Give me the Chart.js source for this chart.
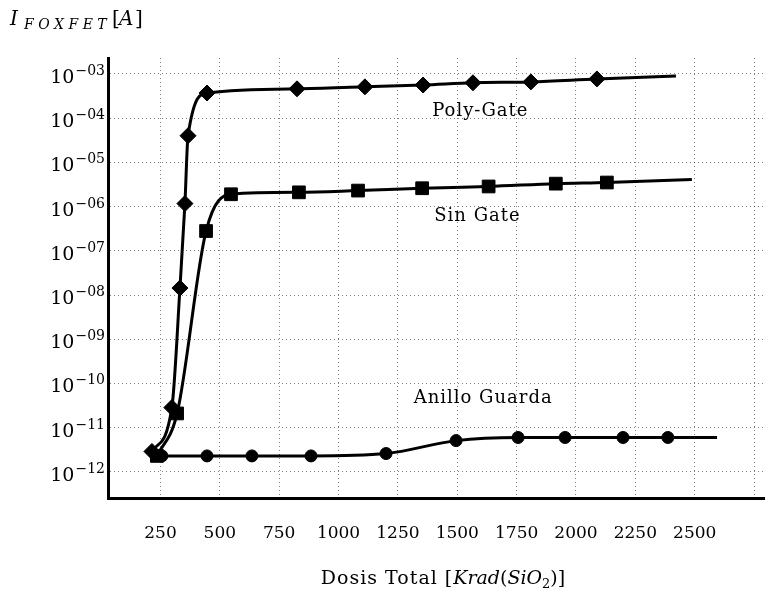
<!DOCTYPE html>
<html>
<head>
<meta charset="utf-8">
<script src="https://cdn.jsdelivr.net/npm/chart.js@4"></script>
<style>
  html, body { margin: 0; padding: 0; background: #fff; overflow: hidden; }
  #wrap { width: 765px; height: 594px; position: relative; }
  #chart { display: block; }
</style>
</head>
<body>
<div id="wrap"><canvas id="chart"></canvas></div>
<script>
// dose [krad(SiO2)] and leakage current [A]
const polyDose = [214, 298, 332, 353, 366, 446, 825, 1111, 1356, 1566, 1810, 2088, 2421];
const polyCurrent = [2.9e-12, 2.85e-11, 1.44e-8, 1.17e-6, 4.0e-5, 3.7e-4, 4.6e-4, 5.1e-4, 5.6e-4, 6.3e-4, 6.6e-4, 7.7e-4, 9.0e-4];

const sinDose = [235, 320, 442, 547, 833, 1082, 1352, 1632, 1915, 2130, 2488];
const sinCurrent = [2.3e-12, 2.1e-11, 2.8e-7, 1.9e-6, 2.1e-6, 2.3e-6, 2.6e-6, 2.85e-6, 3.3e-6, 3.5e-6, 4.1e-6];

const anilloDose = [256, 446, 635, 884, 1200, 1495, 1756, 1954, 2198, 2387, 2594];
const anilloCurrent = [2.3e-12, 2.3e-12, 2.3e-12, 2.3e-12, 2.6e-12, 5.1e-12, 6.0e-12, 6.0e-12, 6.0e-12, 6.0e-12, 6.0e-12];

const xGrid = [250, 500, 750, 1000, 1250, 1500, 1750, 2000, 2250, 2500, 2750];
const xTickLabels = ['250', '500', '750', '1000', '1250', '1500', '1750', '2000', '2250', '2500', ''];
const yExponents = [-12, -11, -10, -9, -8, -7, -6, -5, -4, -3];

const seriesNames = ['Poly-Gate', 'Sin Gate', 'Anillo Guarda'];

const SERIF = '"DejaVu Serif", serif';

function series(name, xs, ys, shape, radius) {
    return {
        label: name,
        data: xs.map((x, i) => ({ x: x, y: ys[i] })),
        borderColor: '#000',
        backgroundColor: '#000',
        borderWidth: 3,
        pointStyle: shape,
        pointRadius: ctx => ctx.dataIndex === xs.length - 1 ? 0 : radius,
        pointBorderWidth: 1,
        cubicInterpolationMode: 'monotone'
    };
}

// axis titles, superscript tick labels and curve names
const textPlugin = {
    id: 'texts',
    afterDraw(chart) {
        const ctx = chart.ctx;
        const xs = chart.scales.x, ys = chart.scales.y;
        ctx.save();
        ctx.fillStyle = '#000';
        ctx.textBaseline = 'alphabetic';

        // y tick labels 10^-nn
        ctx.textAlign = 'right';
        yExponents.forEach(e => {
            const py = ys.getPixelForValue(Math.pow(10, e));
            const sup = '\u2212' + String(Math.abs(e)).padStart(2, '0');
            ctx.font = '14px ' + SERIF;
            const sw = ctx.measureText(sup).width;
            ctx.fillText(sup, 105, py + 1);
            ctx.font = '19px ' + SERIF;
            ctx.fillText('10', 104 - sw, py + 9);
        });

        // curve names
        ctx.textAlign = 'center';
        ctx.font = '18px ' + SERIF;
        ctx.letterSpacing = '1px';
        const names = [[1597, -3.95], [1585, -6.33], [1609, -10.45]];
        seriesNames.forEach((n, i) => {
            ctx.fillText(n, xs.getPixelForValue(names[i][0]), ys.getPixelForValue(Math.pow(10, names[i][1])));
        });

        // y title  I_FOXFET[A]
        ctx.textAlign = 'left';
        ctx.letterSpacing = '0px';
        ctx.font = 'italic 20px ' + SERIF;
        ctx.fillText('I', 10, 25);
        ctx.font = 'italic 14px ' + SERIF;
        ctx.letterSpacing = '4.5px';
        ctx.fillText('FOXFET', 24, 29);
        ctx.letterSpacing = '0px';
        ctx.font = '20px ' + SERIF;
        ctx.fillText('[', 112, 25);
        ctx.font = 'italic 20px ' + SERIF;
        ctx.fillText('A', 119, 25);
        ctx.font = '20px ' + SERIF;
        ctx.fillText(']', 135, 25);

        // x title  Dosis Total [Krad(SiO2)]
        const parts = [
            ['Dosis Total [', '19px ' + SERIF, 0, '1px'],
            ['Krad', 'italic 19px ' + SERIF, 0, '0px'],
            ['(', '19px ' + SERIF, 0, '0px'],
            ['SiO', 'italic 19px ' + SERIF, 0, '0px'],
            ['2', '13px ' + SERIF, 4, '0px'],
            [')]', '19px ' + SERIF, 0, '0px']
        ];
        let total = 0;
        parts.forEach(p => { ctx.font = p[1]; ctx.letterSpacing = p[3]; total += ctx.measureText(p[0]).width; });
        let px = 443 - total / 2;
        parts.forEach(p => {
            ctx.font = p[1];
            ctx.letterSpacing = p[3];
            ctx.fillText(p[0], px, 584 + p[2]);
            px += ctx.measureText(p[0]).width;
        });
        ctx.restore();
    }
};

new Chart(document.getElementById('chart'), {
    type: 'line',
    data: {
        datasets: [
            series(seriesNames[0], polyDose, polyCurrent, 'rectRot', 8),
            series(seriesNames[1], sinDose, sinCurrent, 'rect', 9),
            series(seriesNames[2], anilloDose, anilloCurrent, 'circle', 6)
        ]
    },
    options: {
        responsive: true,
        maintainAspectRatio: false,
        animation: false,
        events: [],
        layout: { autoPadding: false, padding: { top: 58, left: 0, right: 0, bottom: 0 } },
        plugins: {
            legend: { display: false },
            tooltip: { enabled: false }
        },
        scales: {
            x: {
                type: 'linear',
                min: 29,
                max: 2796,
                afterBuildTicks: scale => { scale.ticks = xGrid.map(v => ({ value: v })); },
                afterFit: scale => {
                    scale.height = 96;
                    scale.paddingLeft = 0;
                    scale.paddingRight = 0;
                },
                ticks: {
                    color: '#000',
                    font: { family: 'DejaVu Serif', size: 17 },
                    padding: 25,
                    maxRotation: 0,
                    autoSkip: false,
                    callback: (v, i) => xTickLabels[i]
                },
                grid: { color: 'rgba(0,0,0,0.5)', lineWidth: 1, drawTicks: false },
                border: { display: true, color: '#000', width: 3, dash: [1, 3] }
            },
            y: {
                type: 'logarithmic',
                min: Math.pow(10, -12.59),
                max: Math.pow(10, -2.64),
                afterBuildTicks: scale => { scale.ticks = yExponents.map(e => ({ value: Math.pow(10, e) })); },
                afterFit: scale => {
                    scale.width = 108;
                    scale.paddingTop = 0;
                    scale.paddingBottom = 0;
                },
                ticks: { display: false },
                grid: { color: 'rgba(0,0,0,0.5)', lineWidth: 1, drawTicks: false },
                border: { display: true, color: '#000', width: 3, dash: [1, 3] }
            }
        }
    },
    plugins: [textPlugin]
});
</script>
</body>
</html>
